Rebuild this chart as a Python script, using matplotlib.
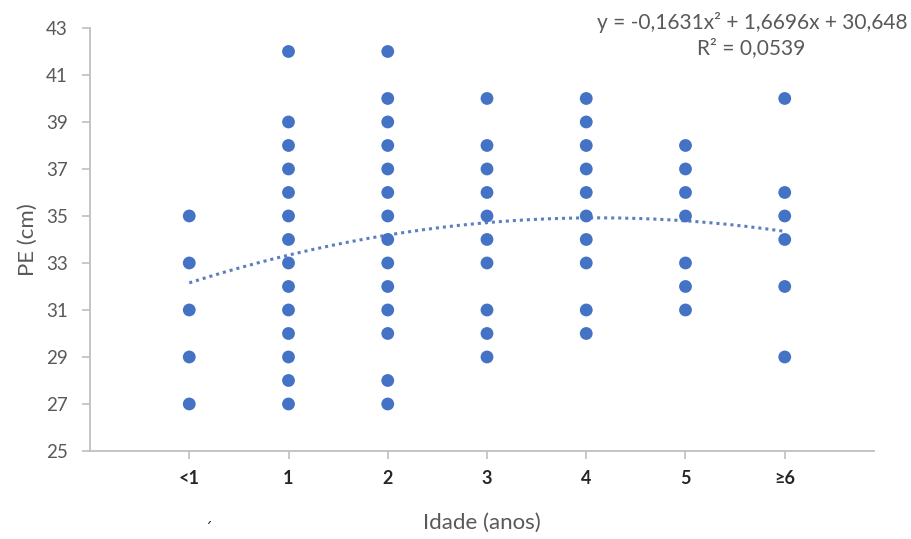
import matplotlib
matplotlib.use("Agg")
import matplotlib.pyplot as plt
import numpy as np

# Faixas etárias (posições 1..7 no eixo x)
faixas = ["<1", "1", "2", "3", "4", "5", "≥6"]

# Perímetro encefálico (cm) observado em cada faixa
pe_menor1 = [35, 33, 31, 29, 27]
pe_1 = [42, 39, 38, 37, 36, 35, 34, 33, 32, 31, 30, 29, 28, 27]
pe_2 = [42, 40, 39, 38, 37, 36, 35, 34, 33, 32, 31, 30, 28, 27]
pe_3 = [40, 38, 37, 36, 35, 34, 33, 31, 30, 29]
pe_4 = [40, 39, 38, 37, 36, 35, 34, 33, 31, 30]
pe_5 = [38, 37, 36, 35, 33, 32, 31]
pe_6 = [40, 36, 35, 34, 32, 29]

# Linha de tendência polinomial (ordem 2)
coef = [-0.1631, 1.6696, 30.648]
r2 = 0.0539

AZUL = "#4472C4"
CINZA = "#595959"

fig = plt.figure(figsize=(9.12, 5.39), dpi=100)
ax = fig.add_axes([0.0987, 0.1633, 0.8597, 0.7848])

grupos = [pe_menor1, pe_1, pe_2, pe_3, pe_4, pe_5, pe_6]
for i, valores in enumerate(grupos):
    x = np.full(len(valores), i + 1)
    ax.scatter(x, valores, s=85, color=AZUL, edgecolors="none", zorder=3)

xs = np.linspace(1, 7, 200)
ys = np.polyval(coef, xs)
ax.plot(xs, ys, linestyle=(0, (1, 1.3)), color="#5B7FC0", linewidth=2.2, zorder=2)

ax.set_xlim(0, 7.9)
ax.set_ylim(25, 43)
ax.set_yticks(np.arange(25, 44, 2))
ax.set_xticks(range(1, 8))
ax.set_xticklabels(faixas)

for lado in ["top", "right"]:
    ax.spines[lado].set_visible(False)
for lado in ["left", "bottom"]:
    ax.spines[lado].set_color("#BFBFBF")
    ax.spines[lado].set_linewidth(1.3)

ax.tick_params(axis="y", direction="out", length=6, width=1.2, color="#BFBFBF",
               labelsize=13.5, labelcolor=CINZA, pad=10)
ax.tick_params(axis="x", direction="out", length=6, width=1.2, color="#BFBFBF",
               labelsize=13, labelcolor="#262626", pad=8)
for lbl in ax.get_yticklabels() + ax.get_xticklabels():
    lbl.set_fontfamily("Lato")
for lbl in ax.get_xticklabels():
    lbl.set_fontweight("bold")

ax.set_xlabel("Idade (anos)", fontsize=16, color=CINZA, family="Lato", labelpad=18)
ax.set_ylabel("PE (cm)", fontsize=16, color=CINZA, family="Lato", labelpad=6)

eq = "y = -0,1631x² + 1,6696x + 30,648"
fig.text(0.655, 0.958, eq, fontsize=15, color=CINZA, family="Lato", va="center", ha="left")
fig.text(0.824, 0.910, "R² = 0,0539", fontsize=15, color=CINZA, family="Lato",
         va="center", ha="center")
fig.text(0.228, 0.003, "´", fontsize=11, color="#262626", ha="center", va="bottom")

fig.savefig("out.png", dpi=100)
